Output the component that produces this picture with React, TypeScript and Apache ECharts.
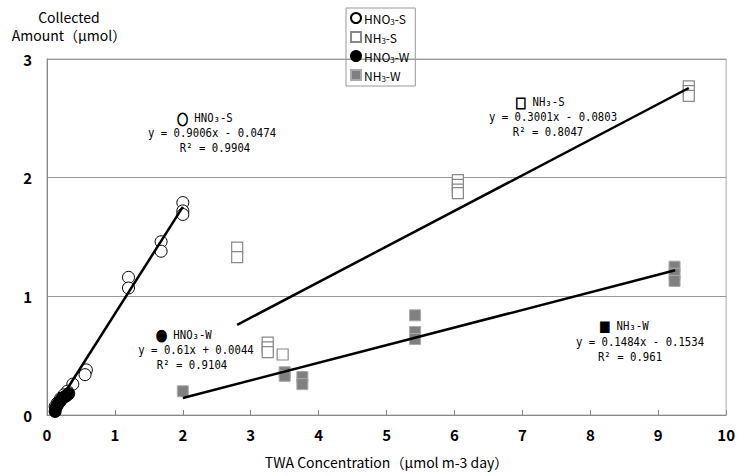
import React, { useEffect, useRef } from "react";
import * as echarts from "echarts";

// ---- data ----
const hno3S_x = [2.0, 2.0, 2.0, 1.68, 1.68, 1.2, 1.2, 0.58, 0.56, 0.38, 0.3, 0.25, 0.2, 0.15, 0.12];
const hno3S_y = [1.79, 1.72, 1.69, 1.46, 1.38, 1.16, 1.07, 0.38, 0.34, 0.26, 0.2, 0.17, 0.14, 0.1, 0.07];

const nh3S_x = [2.8, 2.8, 3.25, 3.25, 3.25, 3.47, 6.05, 6.05, 6.05, 6.05, 9.45, 9.45, 9.45];
const nh3S_y = [1.41, 1.33, 0.61, 0.57, 0.53, 0.51, 1.98, 1.94, 1.9, 1.87, 2.77, 2.73, 2.69];

const hno3W_x = [0.12, 0.13, 0.15, 0.17, 0.2, 0.22, 0.25, 0.28, 0.3, 0.32];
const hno3W_y = [0.03, 0.06, 0.08, 0.1, 0.12, 0.14, 0.15, 0.16, 0.17, 0.18];

const nh3W_x = [2.0, 3.5, 3.5, 3.76, 3.76, 5.42, 5.42, 5.42, 9.24, 9.24, 9.24];
const nh3W_y = [0.2, 0.36, 0.33, 0.32, 0.26, 0.84, 0.7, 0.64, 1.25, 1.19, 1.13];

// trendlines: slope, intercept, x range
const fitNames = ["HNO3-S", "NH3-S", "HNO3-W", "NH3-W"];
const fitSlopes = [0.9006, 0.3001, 0.61, 0.1484];
const fitIntercepts = [-0.0474, -0.0803, 0.0044, -0.1534];
const fitXStart = [0.09, 2.8, 0.1, 2.0];
const fitXEnd = [2.0, 9.45, 0.33, 9.25];

const xTicks = [0, 1, 2, 3, 4, 5, 6, 7, 8, 9, 10];
const yTicks = [0, 1, 2, 3];

const annoSymbols = ["○", "□", "●", "■"];
const annoLines = [
  ["HNO₃-S", "y = 0.9006x - 0.0474", "R² = 0.9904"],
  ["NH₃-S", "y = 0.3001x - 0.0803", "R² = 0.8047"],
  ["HNO₃-W", "y = 0.61x + 0.0044", "R² = 0.9104"],
  ["NH₃-W", "y = 0.1484x - 0.1534", "R² = 0.961"],
];

const zip = (xs: number[], ys: number[]) => xs.map((x, i) => [x, ys[i]]);

export default function App() {
  const ref = useRef<HTMLDivElement>(null);
  useEffect(() => {
    if (!ref.current) return;
    document.body.style.margin = "0";
    const chart = echarts.init(ref.current, null, { renderer: "svg" });

    const annoPos = [
      [[205, 118], [212, 133], [215, 148]],
      [[540, 102], [553, 117], [548, 132]],
      [[184, 335], [196, 350], [192, 365]],
      [[624, 326], [640, 342], [630, 357]],
    ];
    const graphics: any[] = [];
    annoLines.forEach((lines, i) => {
      lines.forEach((t, j) => {
        graphics.push({
          type: "text",
          x: annoPos[i][j][0],
          y: annoPos[i][j][1],
          scaleX: 0.82,
          style: {
            text: j === 0 ? `{sym|${annoSymbols[i]}} ${t}` : t,
            x: 0,
            y: 0,
            textAlign: "center",
            textVerticalAlign: "middle",
            font: "13px 'DejaVu Sans Mono'",
            fill: "#000",
            rich: {
              sym: {
                fontFamily: "'Noto Sans CJK JP'",
                fontSize: 13,
                fill: "#000",
                stroke: "#000",
                lineWidth: 1.2,
              },
            },
          },
        });
      });
    });
    graphics.push({
      type: "text",
      x: 69,
      y: 17,
      style: {
        text: "Collected",
        textAlign: "center",
        textVerticalAlign: "middle",
        font: "14px 'Noto Sans CJK JP'",
        fill: "#000",
      },
    });
    graphics.push({
      type: "text",
      x: 69,
      y: 35,
      style: {
        text: "Amount（μmol）",
        textAlign: "center",
        textVerticalAlign: "middle",
        font: "14px 'Noto Sans CJK JP'",
        fill: "#000",
      },
    });

    const fitSeries = fitNames.map((n, i) => ({
      name: n + " fit",
      type: "line",
      data: [
        [fitXStart[i], fitSlopes[i] * fitXStart[i] + fitIntercepts[i]],
        [fitXEnd[i], fitSlopes[i] * fitXEnd[i] + fitIntercepts[i]],
      ],
      showSymbol: false,
      symbol: "none",
      lineStyle: { color: "#000", width: 2.5 },
      z: 10,
      silent: true,
    }));

    const richLegend = {
      t: { fontFamily: "'Noto Sans CJK JP'", fontSize: 12, color: "#000" },
      s: { fontFamily: "'Noto Sans CJK JP'", fontSize: 8, color: "#000", verticalAlign: "bottom", padding: [6, 0, 0, 0] },
    };

    chart.setOption({
      animation: false,
      backgroundColor: "#fff",
      graphic: graphics,
      legend: {
        orient: "vertical",
        left: 346,
        top: 8,
        itemWidth: 10,
        itemHeight: 10,
        itemGap: 6,
        padding: [4, 6, 4, 4],
        borderColor: "#999",
        borderWidth: 1,
        data: ["HNO3-S", "NH3-S", "HNO3-W", "NH3-W"],
        formatter: (name: string) => {
          const m = name.match(/^([A-Z]+)(\d)(.*)$/);
          if (!m) return name;
          return `{t|${m[1]}}{s|${m[2]}}{t|${m[3]}}`;
        },
        textStyle: { rich: richLegend, padding: [0, 0, 0, -2] },
      },
      grid: {
        left: 47,
        right: 11,
        top: 59,
        bottom: 61,
        show: true,
        borderColor: "#aaa",
        borderWidth: 1,
      },
      xAxis: {
        type: "value",
        min: xTicks[0],
        max: xTicks[xTicks.length - 1],
        interval: 1,
        name: "TWA Concentration（μmol m-3 day）",
        nameLocation: "middle",
        nameGap: 40,
        nameTextStyle: { fontFamily: "'Noto Sans CJK JP'", fontSize: 14, color: "#000" },
        axisLine: { lineStyle: { color: "#888" } },
        axisTick: { inside: true, length: 5, lineStyle: { color: "#888" } },
        axisLabel: { fontFamily: "'Noto Sans CJK JP'", fontSize: 15, fontWeight: "bold", color: "#000", margin: 12 },
        splitLine: { show: false },
      },
      yAxis: {
        type: "value",
        min: yTicks[0],
        max: yTicks[yTicks.length - 1],
        interval: 1,
        axisLine: { show: true, lineStyle: { color: "#888" } },
        axisTick: { show: false },
        axisLabel: { fontFamily: "'Noto Sans CJK JP'", fontSize: 15, fontWeight: "bold", color: "#000", margin: 15 },
        splitLine: { show: true, lineStyle: { color: "#999" } },
      },
      series: [
        {
          name: "HNO3-S",
          type: "scatter",
          data: zip(hno3S_x, hno3S_y),
          symbol: "circle",
          symbolSize: 12,
          itemStyle: { color: "#fff", borderColor: "#000", borderWidth: 1, opacity: 1 },
          z: 3,
        },
        {
          name: "NH3-S",
          type: "scatter",
          data: zip(nh3S_x, nh3S_y),
          symbol: "rect",
          symbolSize: 11,
          itemStyle: { color: "#fff", borderColor: "#888", borderWidth: 1.2, opacity: 1 },
          z: 3,
        },
        {
          name: "HNO3-W",
          type: "scatter",
          data: zip(hno3W_x, hno3W_y),
          symbol: "circle",
          symbolSize: 12,
          itemStyle: { color: "#000", borderColor: "#000", borderWidth: 1, opacity: 1 },
          z: 4,
        },
        {
          name: "NH3-W",
          type: "scatter",
          data: zip(nh3W_x, nh3W_y),
          symbol: "rect",
          symbolSize: 11,
          itemStyle: { color: "#808080", borderColor: "#aaa", borderWidth: 1, opacity: 1 },
          z: 3,
        },
        ...fitSeries,
      ],
    });
    return () => chart.dispose();
  }, []);
  return <div ref={ref} style={{ width: 738, height: 476 }} />;
}
